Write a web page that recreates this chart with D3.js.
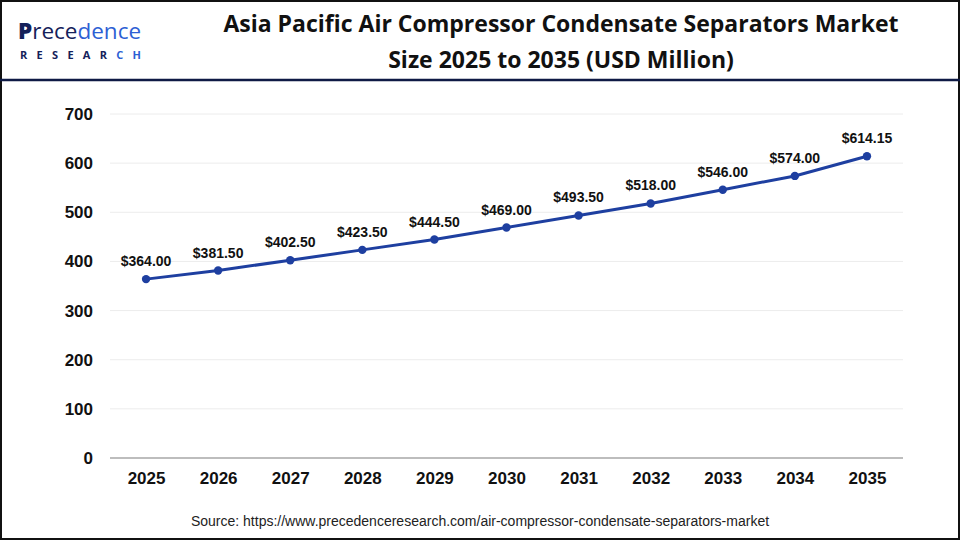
<!DOCTYPE html>
<html><head><meta charset="utf-8">
<script src="https://cdn.jsdelivr.net/npm/d3@7"></script>
<style>body{margin:0;background:#fff}svg{display:block}</style>
</head><body>
<svg id="c" width="960" height="540"></svg>
<script>
const years = ["2025","2026","2027","2028","2029","2030","2031","2032","2033","2034","2035"];
const values = [364.00,381.50,402.50,423.50,444.50,469.00,493.50,518.00,546.00,574.00,614.15];
const yTicks = [0,100,200,300,400,500,600,700];
const titleLines = ["Asia Pacific Air Compressor Condensate Separators Market","Size 2025 to 2035 (USD Million)"];
const source = "Source: https://www.precedenceresearch.com/air-compressor-condensate-separators-market";

const svg = d3.select("#c");
const W=960,H=540;
svg.append("rect").attr("x",1).attr("y",1).attr("width",W-2).attr("height",H-2).attr("fill","#fff").attr("stroke","#111").attr("stroke-width",2);
svg.append("line").attr("x1",0).attr("x2",W).attr("y1",80).attr("y2",80).attr("stroke","#0f1a45").attr("stroke-width",2.5);

// logo
const lg = svg.append("g");
const t1 = lg.append("text").attr("x",18).attr("y",39).attr("font-family","'Open Sans', sans-serif").attr("font-size",22.5).attr("font-weight",500);
t1.append("tspan").attr("fill","#14215a").attr("font-weight",800).text("P");
t1.append("tspan").attr("fill","#14215a").text("rece");
t1.append("tspan").attr("fill","#2d5fd4").text("dence");
const t2 = lg.append("text").attr("x",20).attr("y",59).attr("font-family","'Open Sans', sans-serif").attr("font-size",11).attr("font-weight",700).attr("letter-spacing",9.3);
t2.append("tspan").attr("fill","#14215a").text("RESEAR");
t2.append("tspan").attr("fill","#2d5fd4").text("CH");

// title
svg.append("g").selectAll("text").data(titleLines).join("text")
  .attr("x",561).attr("y",(d,i)=>32+i*36).attr("text-anchor","middle")
  .attr("font-family","'Open Sans', sans-serif").attr("font-weight",700).attr("font-size",23).attr("fill","#111")
  .text(d=>d);

const x = d3.scalePoint().domain(years).range([110,903]).padding(0.5);
const y = d3.scaleLinear().domain([0,700]).range([458,114]);

// grid
svg.append("g").selectAll("line").data(yTicks).join("line")
  .attr("x1",110).attr("x2",903).attr("y1",d=>y(d)).attr("y2",d=>y(d))
  .attr("stroke",d=>d===0?"#bdbdbd":"#ececec").attr("stroke-width",d=>d===0?2:1);

const yAxis = svg.append("g").attr("transform","translate(93,0)").call(d3.axisLeft(y).tickValues(yTicks).tickSize(0).tickPadding(0));
yAxis.select(".domain").remove();
yAxis.selectAll("text").attr("font-family","'Liberation Sans', Arial, sans-serif").attr("font-weight",700).attr("font-size",17).attr("fill","#111");

const xAxis = svg.append("g").attr("transform","translate(0,470)").call(d3.axisBottom(x).tickSize(0).tickPadding(0));
xAxis.select(".domain").remove();
xAxis.selectAll("text").attr("dy","0.85em").attr("font-family","'Liberation Sans', Arial, sans-serif").attr("font-weight",700).attr("font-size",17).attr("fill","#111");

const data = years.map((yr,i)=>({yr,v:values[i]}));
svg.append("path").datum(data).attr("fill","none").attr("stroke","#1e3fa0").attr("stroke-width",3)
  .attr("d",d3.line().x(d=>x(d.yr)).y(d=>y(d.v)));
svg.append("g").selectAll("circle").data(data).join("circle")
  .attr("cx",d=>x(d.yr)).attr("cy",d=>y(d.v)).attr("r",4.2).attr("fill","#1e3fa0");
svg.append("g").selectAll("text").data(data).join("text")
  .attr("x",d=>x(d.yr)).attr("y",d=>y(d.v)-13).attr("text-anchor","middle")
  .attr("font-family","'Liberation Sans', Arial, sans-serif").attr("font-weight",700).attr("font-size",14).attr("fill","#111")
  .text(d=>"$"+d.v.toFixed(2));

svg.append("text").attr("x",480).attr("y",526).attr("text-anchor","middle")
  .attr("font-family","'Liberation Sans', Arial, sans-serif").attr("font-size",14).attr("fill","#222").text(source);
</script>
</body></html>
